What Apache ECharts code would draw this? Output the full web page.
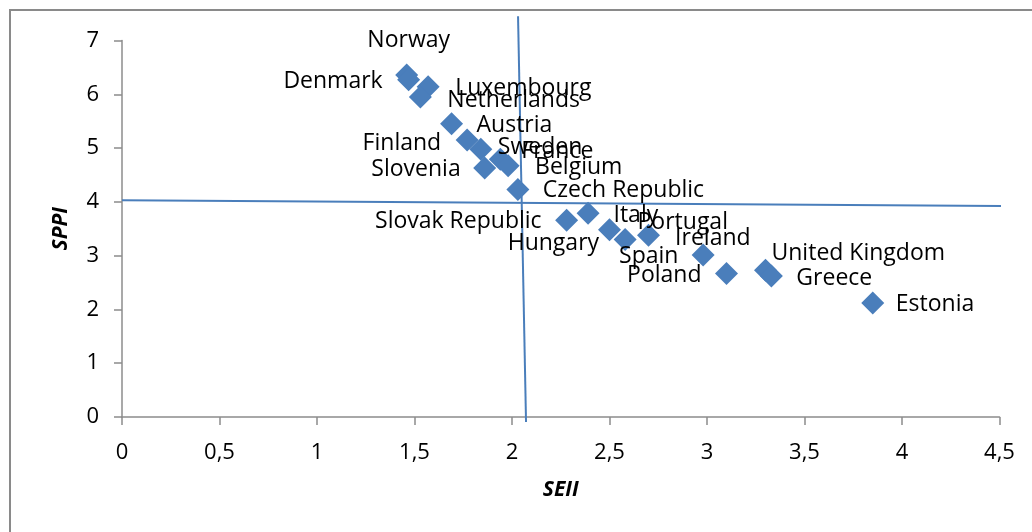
<!DOCTYPE html>
<html>
<head>
<meta charset="utf-8">
<script src="https://cdn.jsdelivr.net/npm/echarts@6/dist/echarts.min.js"></script>
<style>
html,body{margin:0;padding:0;background:#fff;}
#chart{width:1032px;height:532px;}
</style>
</head>
<body>
<div id="chart"></div>
<script>
// ---- data ----
var countries = ["Norway","Denmark","Luxembourg","Netherlands","Austria","Finland","Sweden","Slovenia","France","Belgium","Czech Republic","Slovak Republic","Hungary","Italy","Spain","Portugal","Ireland","Poland","United Kingdom","Greece","Estonia"];
var seii = [1.46,1.47,1.57,1.53,1.69,1.77,1.84,1.86,1.94,1.98,2.03,2.28,2.39,2.50,2.58,2.70,2.98,3.10,3.30,3.33,3.85];
var sppi = [6.36,6.27,6.14,5.95,5.45,5.15,4.98,4.63,4.79,4.67,4.23,3.66,3.79,3.48,3.30,3.38,3.01,2.67,2.73,2.62,2.12];
var xTicks = [0,0.5,1,1.5,2,2.5,3,3.5,4,4.5];
var yTicks = [0,1,2,3,4,5,6,7];
var hLine = [[0,4.03],[4.667,3.92]];
var vLine = [[2.031,7.45],[2.072,-0.093]];

// ---- label layout (align, dx, dy) relative to marker centre ----
var labelLayout = {
  "Norway":["center",2,-34],
  "Denmark":["right",-26,2],
  "Luxembourg":["left",27,2],
  "Netherlands":["left",27,3],
  "Austria":["left",25,2],
  "Finland":["right",-26,3],
  "Sweden":["left",17,-2],
  "France":["left",21,-8],
  "Slovenia":["right",-24,1],
  "Belgium":["left",27,2],
  "Czech Republic":["left",25,1],
  "Slovak Republic":["right",-25,1],
  "Hungary":["right",11,30],
  "Italy":["left",4,-14],
  "Portugal":["left",-11,-13],
  "Ireland":["left",-28,-17],
  "Spain":["left",-6,17],
  "Poland":["right",-25,2],
  "United Kingdom":["left",6,-17],
  "Greece":["left",25,2],
  "Estonia":["left",23,1]
};

var SYM = 23;
var points = countries.map(function(c,i){
  var l = labelLayout[c];
  return {
    name: c,
    value: [seii[i], sppi[i]],
    label: {show:true, formatter: c, position:[SYM/2 + l[1], SYM/2 + l[2]], align:l[0], verticalAlign:'middle'}
  };
});

var FONT = '"Open Sans", sans-serif';
var chart = echarts.init(document.getElementById('chart'), null, {renderer:'canvas'});
chart.setOption({
  animation:false,
  backgroundColor:'#ffffff',
  graphic:[{type:'rect', shape:{x:10, y:10, width:1100, height:600}, style:{fill:'none', stroke:'#8a8a8a', lineWidth:2}, z:-10, silent:true}],
  grid:{left:122, right:32.5, top:40.5, bottom:115},
  xAxis:{
    type:'value', min:0, max:4.5, interval:0.5,
    name:'SEII', nameLocation:'middle', nameGap:63,
    nameTextStyle:{fontFamily:FONT, fontSize:21, fontWeight:'bold', fontStyle:'italic', color:'#000'},
    axisLine:{show:true, onZero:false, lineStyle:{color:'#8c8c8c', width:1.5}},
    axisTick:{show:true, length:8, lineStyle:{color:'#8c8c8c', width:1.5}},
    splitLine:{show:false},
    axisLabel:{margin:25, fontFamily:FONT, fontSize:22, color:'#000', formatter:function(v){return String(v).replace('.',',');}}
  },
  yAxis:{
    type:'value', min:0, max:7, interval:1,
    name:'SPPI', nameLocation:'middle', nameGap:50, nameRotate:90,
    nameTextStyle:{fontFamily:FONT, fontSize:21, fontWeight:'bold', fontStyle:'italic', color:'#000'},
    axisLine:{show:true, lineStyle:{color:'#8c8c8c', width:1.5}},
    axisTick:{show:true, length:8, lineStyle:{color:'#8c8c8c', width:1.5}},
    splitLine:{show:false},
    axisLabel:{margin:23, fontFamily:FONT, fontSize:22, color:'#000'}
  },
  series:[
    {type:'line', data:hLine, symbol:'none', clip:false, silent:true, z:1,
     lineStyle:{color:'#4A7EBB', width:2}},
    {type:'line', data:vLine, symbol:'none', clip:false, silent:true, z:1,
     lineStyle:{color:'#4A7EBB', width:2}},
    {type:'scatter', data:points, symbol:'diamond', symbolSize:SYM, z:3,
     itemStyle:{color:'#4A7EBB', opacity:1},
     label:{fontFamily:FONT, fontSize:23, color:'#000'},
     labelLayout:{hideOverlap:false}}
  ]
});
</script>
</body>
</html>
